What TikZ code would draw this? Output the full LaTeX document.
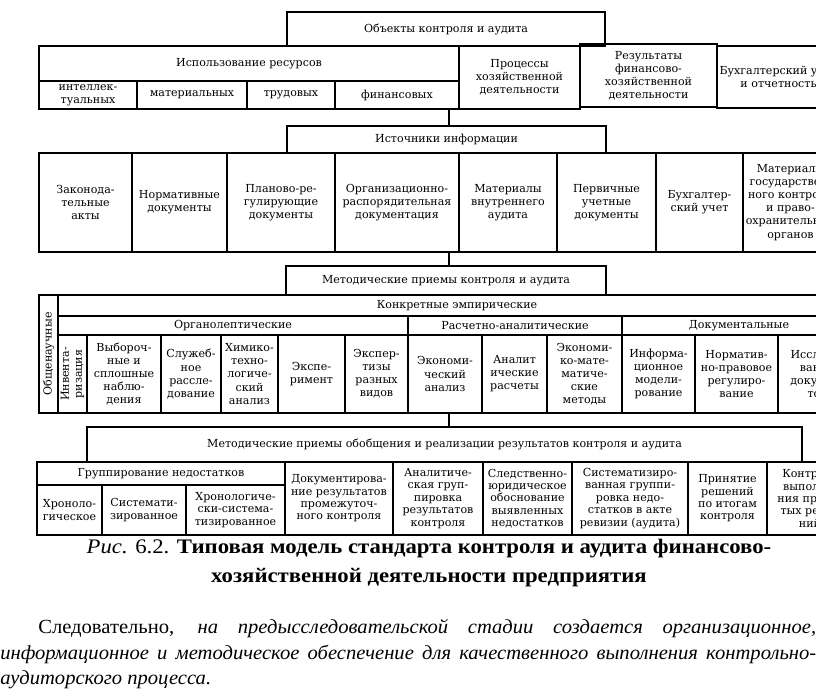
\documentclass[tikz,border=0pt]{standalone}
\usepackage{fontspec}
\setmainfont{Liberation Serif}
\newfontfamily\boxfont{DejaVu Serif}
\newfontfamily\capfont[FakeStretch=1.1]{Liberation Serif}
\newfontfamily\parfont[FakeStretch=1.03]{Liberation Serif}

\tikzset{
  cell/.style={draw, line width=0.9pt, inner sep=0pt, align=center,
    font=\boxfont\fontsize{8.3}{9.8}\selectfont},
  link/.style={line width=0.9pt},
}
% box from (x1,y1) to (x2,y2) in pixels: name, x1, y1, x2, y2, text
\newcommand{\bx}[6]{%
  \node[cell, minimum width={(#4-#2)*0.75pt}, minimum height={(#5-#3)*0.75pt}]
    (#1) at ({(#2+#4)/2},{(#3+#5)/2}) {#6};}

\begin{document}
\begin{tikzpicture}[x=0.75pt, y=-0.75pt]
  \useasboundingbox (0,0) rectangle (816,689);
  \clip (0,0) rectangle (816,689);
  \coordinate (lnk) at (449,0);

  % objects of control
  \bx{obj}{287}{12}{605}{46}{Объекты контроля и аудита}
  \bx{res}{39}{46}{459}{81}{Использование ресурсов}
  \bx{r1}{39}{81}{137}{109}{интеллек-\\туальных}
  \bx{r2}{137}{81}{247}{109}{материальных}
  \bx{r3}{247}{81}{335}{109}{трудовых}
  \bx{r4}{335}{81}{459}{109}{финансовых}
  \bx{proc}{459}{46}{580}{109}{Процессы\\хозяйственной\\деятельности}
  \bx{acc}{717}{46}{840}{108}{Бухгалтерский учет\\и отчетность}
  \bx{rslt}{580}{44}{717}{107}{Результаты\\финансово-\\хозяйственной\\деятельности}

  % sources of information
  \bx{src}{287}{126}{606}{153}{Источники информации}
  \bx{s1}{39}{153}{132}{252}{Законода-\\тельные\\акты}
  \bx{s2}{132}{153}{227}{252}{Нормативные\\документы}
  \bx{s3}{227}{153}{335}{252}{Планово-ре-\\гулирующие\\документы}
  \bx{s4}{335}{153}{459}{252}{Организационно-\\распорядительная\\документация}
  \bx{s5}{459}{153}{557}{252}{Материалы\\внутреннего\\аудита}
  \bx{s6}{557}{153}{656}{252}{Первичные\\учетные\\документы}
  \bx{s7}{656}{153}{743}{252}{Бухгалтер-\\ский учет}
  \bx{s8}{743}{153}{838}{252}{Материалы\\государствен-\\ного контроля\\и право-\\охранительных\\органов}

  % methods of control
  \bx{mth}{286}{266}{606}{295}{Методические приемы контроля и аудита}
  \node[cell, rotate=90, minimum width={118*0.75pt}, minimum height={19*0.75pt}]
    (sci) at (48.5,354) {Общенаучные};
  \bx{emp}{58}{295}{856}{316}{Конкретные эмпирические}
  \bx{org}{58}{316}{408}{335}{Органолептические}
  \bx{calc}{408}{316}{622}{335}{Расчетно-аналитические}
  \bx{doc}{622}{316}{856}{335}{Документальные}
  \node[cell, rotate=90, minimum width={78*0.75pt}, minimum height={29*0.75pt}]
    (m1) at (72.5,374) {Инвента-\\ризация};
  \bx{m2}{87}{335}{161}{413}{Выбороч-\\ные и\\сплошные\\наблю-\\дения}
  \bx{m3}{161}{335}{221}{413}{Служеб-\\ное\\рассле-\\дование}
  \bx{m4}{221}{335}{278}{413}{Химико-\\техно-\\логиче-\\ский\\анализ}
  \bx{m5}{278}{335}{345}{413}{Экспе-\\римент}
  \bx{m6}{345}{335}{408}{413}{Экспер-\\тизы\\разных\\видов}
  \bx{m7}{408}{335}{482}{413}{Экономи-\\ческий\\анализ}
  \bx{m8}{482}{335}{547}{413}{Аналит\\ические\\расчеты}
  \bx{m9}{547}{335}{622}{413}{Экономи-\\ко-мате-\\матиче-\\ские\\методы}
  \bx{m10}{622}{335}{695}{413}{Информа-\\ционное\\модели-\\рование}
  \bx{m11}{695}{335}{778}{413}{Норматив-\\но-правовое\\регулиро-\\вание}
  \bx{m12}{778}{335}{856}{413}{Исследо-\\вание\\докумен-\\тов}

  % generalization of results
  \bx{gsum}{87}{427}{802}{462}{Методические приемы обобщения и реализации результатов контроля и аудита}
  \begin{scope}[cell/.append style={font=\boxfont\fontsize{8.3}{9.3}\selectfont}]
  \bx{grp}{37}{462}{285}{485}{Группирование недостатков}
  \bx{g1}{37}{485}{102}{535}{Хроноло-\\гическое}
  \bx{g2}{102}{485}{186}{535}{Системати-\\зированное}
  \bx{g3}{186}{485}{285}{535}{Хронологиче-\\ски-система-\\тизированное}
  \bx{g4}{285}{462}{393}{535}{Документирова-\\ние результатов\\промежуточ-\\ного контроля}
  \bx{g5}{393}{462}{483}{535}{Аналитиче-\\ская груп-\\пировка\\результатов\\контроля}
  \bx{g6}{483}{462}{572}{535}{Следственно-\\юридическое\\обоснование\\выявленных\\недостатков}
  \bx{g7}{572}{462}{688}{535}{Систематизиро-\\ванная группи-\\ровка недо-\\статков в акте\\ревизии (аудита)}
  \bx{g8}{688}{462}{767}{535}{Принятие\\решений\\по итогам\\контроля}
  \bx{g9}{767}{462}{853}{535}{Контроль\\выполне-\\ния приня-\\тых реше-\\ний}
  \end{scope}

  % connectors
  \draw[link] (r4.south -| lnk) -- (src.north -| lnk);
  \draw[link] (s4.south -| lnk) -- (mth.north -| lnk);
  \draw[link] (m7.south -| lnk) -- (gsum.north -| lnk);

  % caption and text below
  \node[font=\capfont\fontsize{15.5}{22}\selectfont, align=center, inner sep=0pt] (cap) at (429,563)
    {\textit{Рис.} 6.2. \textbf{Типовая модель стандарта контроля и аудита финансово-}\\
     \textbf{хозяйственной деятельности предприятия}};
  \node[anchor=north west, text width=612pt, align=justify, inner sep=0pt,
    font=\parfont\fontsize{15}{19.2}\selectfont] (para) at (0,619)
    {\tolerance=9999\hspace*{28.5pt}Следовательно, \textit{на предысследовательской стадии создается организационное,}\linebreak
     \textit{информационное и методическое обеспечение для качественного выполнения контрольно-}\linebreak
     \textit{аудиторского процесса.}};
\end{tikzpicture}
\end{document}
